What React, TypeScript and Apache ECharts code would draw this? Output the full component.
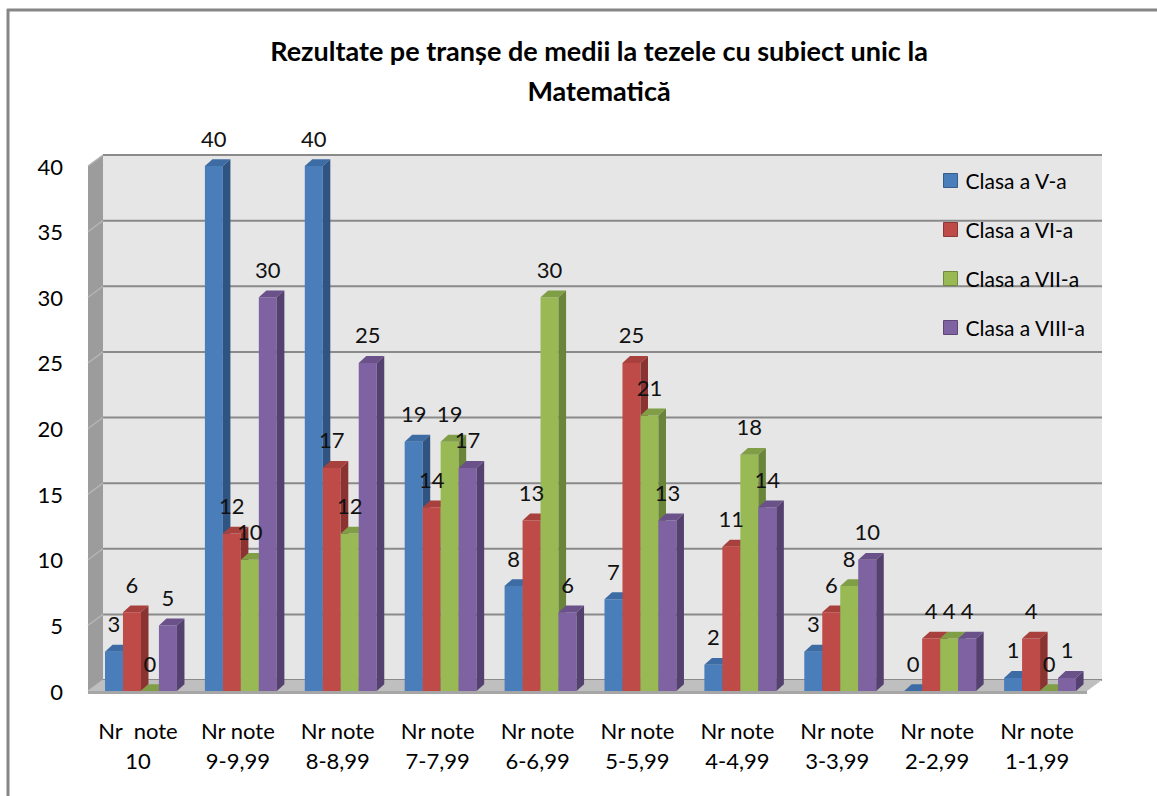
import React, { useEffect, useRef } from "react";
import * as echarts from "echarts";

const categories = [
  "Nr  note\n10",
  "Nr note\n9-9,99",
  "Nr note\n8-8,99",
  "Nr note\n7-7,99",
  "Nr note\n6-6,99",
  "Nr note\n5-5,99",
  "Nr note\n4-4,99",
  "Nr note\n3-3,99",
  "Nr note\n2-2,99",
  "Nr note\n1-1,99",
];
const seriesNames = ["Clasa a V-a", "Clasa a VI-a", "Clasa a VII-a", "Clasa a VIII-a"];
const clasaV = [3, 40, 40, 19, 8, 7, 2, 3, 0, 1];
const clasaVI = [6, 12, 17, 14, 13, 25, 11, 6, 4, 4];
const clasaVII = [0, 10, 12, 19, 30, 21, 18, 8, 4, 0];
const clasaVIII = [5, 30, 25, 17, 6, 13, 14, 10, 4, 1];
const seriesValues = [clasaV, clasaVI, clasaVII, clasaVIII];
const yTicks = [0, 5, 10, 15, 20, 25, 30, 35, 40];
const titleText = "Rezultate pe tranșe de medii la tezele cu subiect unic la\nMatematică";

const palette = [
  { front: "#4A7EBB", top: "#3D6BA3", side: "#2F5482", border: "#385D8A" },
  { front: "#BE4B48", top: "#A8403D", side: "#8B3331", border: "#8C3836" },
  { front: "#98B954", top: "#809E45", side: "#6A843A", border: "#71893F" },
  { front: "#7E62A1", top: "#6A5189", side: "#55416F", border: "#5C4776" },
];

const FONT = "Lato, 'Open Sans', sans-serif";

function makeBarSeries(si: number) {
  const col = palette[si];
  return {
    type: "custom",
    name: seriesNames[si],
    z: 2,
    clip: false,
    itemStyle: { color: col.front },
    data: seriesValues[si].map((v, i) => [i, v]),
    encode: { x: 0, y: 1 },
    renderItem: (params: any, api: any) => {
      const ci = api.value(0);
      const v = api.value(1);
      const base = api.coord([ci, 0]);
      const top = api.coord([ci, v]);
      const band = api.size([1, 0])[0];
      const bw = band * 0.18;
      const x0 = base[0] - 2 * bw + si * bw + band * 0.03;
      const dx = bw * 0.42;
      const dy = bw * 0.38;
      const yt = top[1];
      const yb = base[1];
      return {
        type: "group",
        children: [
          {
            type: "rect",
            shape: { x: x0, y: yt, width: bw, height: yb - yt },
            style: { fill: col.front },
          },
          {
            type: "polygon",
            shape: {
              points: [
                [x0, yt],
                [x0 + dx, yt - dy],
                [x0 + bw + dx, yt - dy],
                [x0 + bw, yt],
              ],
            },
            style: { fill: col.top },
          },
          {
            type: "polygon",
            shape: {
              points: [
                [x0 + bw, yt],
                [x0 + bw + dx, yt - dy],
                [x0 + bw + dx, yb - dy],
                [x0 + bw, yb],
              ],
            },
            style: { fill: col.side },
          },
          {
            type: "text",
            x: x0 + bw / 2,
            y: yt - 28,
            z2: 100,
            style: {
              text: String(v),
              fill: "#111",
              fontSize: 22,
              fontFamily: FONT,
              align: "center",
              verticalAlign: "middle",
            },
          },
        ],
      };
    },
  };
}

const wallSeries = {
  type: "custom",
  z: 1,
  clip: false,
  silent: true,
  data: [[0, 0]],
  encode: { x: 0, y: 1 },
  renderItem: (params: any, api: any) => {
    const band = api.size([1, 0])[0];
    const L = api.coord([0, 0])[0] - band / 2;
    const R = api.coord([categories.length - 1, 0])[0] + band / 2;
    const B = api.coord([0, yTicks[0]])[1];
    const T = api.coord([0, yTicks[yTicks.length - 1]])[1];
    const dx = 15;
    const dy = -11;
    const children: any[] = [];
    children.push({
      type: "rect",
      shape: { x: L + dx, y: T + dy, width: R - L, height: B - T },
      style: { fill: "#E6E6E6" },
    });
    yTicks.forEach((t) => {
      const y = api.coord([0, t])[1];
      children.push({
        type: "line",
        shape: { x1: L + dx, y1: y + dy, x2: R + dx, y2: y + dy },
        style: { stroke: "#8A8A8A", lineWidth: 2 },
      });
    });
    children.push({
      type: "polygon",
      shape: {
        points: [
          [L, T],
          [L + dx, T + dy],
          [L + dx, B + dy],
          [L, B],
        ],
      },
      style: { fill: "#9C9C9C" },
    });
    yTicks.forEach((t) => {
      const y = api.coord([0, t])[1];
      children.push({
        type: "line",
        shape: { x1: L, y1: y, x2: L + dx, y2: y + dy },
        style: { stroke: "#B5B5B5", lineWidth: 1.5 },
      });
    });
    children.push({
      type: "polygon",
      shape: {
        points: [
          [L, B],
          [L + dx, B + dy],
          [R + dx, B + dy],
          [R, B],
        ],
      },
      style: { fill: "#BFBFBF" },
    });
    children.push({
      type: "rect",
      shape: { x: L, y: B, width: R - L, height: 3 },
      style: { fill: "#A6A6A6" },
    });
    return { type: "group", children };
  },
};

export default function App() {
  const ref = useRef<HTMLDivElement>(null);
  useEffect(() => {
    if (!ref.current) return;
    const chart = echarts.init(ref.current, undefined, { renderer: "svg" });
    chart.setOption({
      animation: false,
      backgroundColor: "#FFFFFF",
      title: {
        text: titleText,
        left: 594,
        top: 25,
        textAlign: "center",
        textStyle: {
          fontFamily: FONT,
          fontWeight: "bold",
          fontSize: 27,
          lineHeight: 40,
          color: "#000",
        },
      },
      legend: {
        data: seriesNames.map((n, i) => ({
          name: n,
          icon: "rect",
          itemStyle: { color: palette[i].front, borderColor: palette[i].border, borderWidth: 1 },
        })),
        orient: "vertical",
        left: 943,
        top: 170,
        itemWidth: 14,
        itemHeight: 14,
        itemGap: 28,
        padding: 0,
        textStyle: {
          fontFamily: FONT,
          fontSize: 21,
          lineHeight: 20,
          color: "#000",
          padding: [0, 0, 0, 3],
        },
      },
      grid: { left: 88, right: 70, top: 166, bottom: 105, containLabel: false },
      xAxis: {
        type: "category",
        data: categories,
        axisLine: { show: false },
        axisTick: { show: false },
        axisLabel: {
          interval: 0,
          margin: 24,
          fontFamily: FONT,
          fontSize: 22,
          lineHeight: 30,
          color: "#000",
        },
      },
      yAxis: {
        type: "value",
        min: 0,
        max: 40,
        interval: 5,
        axisLine: { show: false },
        axisTick: { show: false },
        splitLine: { show: false },
        axisLabel: {
          margin: 25,
          fontFamily: FONT,
          fontSize: 22,
          color: "#000",
        },
      },
      graphic: [
        {
          type: "line",
          shape: { x1: 7, y1: 10, x2: 1157, y2: 10 },
          style: { stroke: "#868686", lineWidth: 3 },
        },
        {
          type: "line",
          shape: { x1: 8, y1: 9, x2: 8, y2: 796 },
          style: { stroke: "#868686", lineWidth: 3 },
        },
      ],
      series: [wallSeries, ...seriesValues.map((_, i) => makeBarSeries(i))],
    });
    return () => chart.dispose();
  }, []);
  return (
    <div
      ref={ref}
      style={{ position: "fixed", left: 0, top: 0, width: 1157, height: 796 }}
    />
  );
}
